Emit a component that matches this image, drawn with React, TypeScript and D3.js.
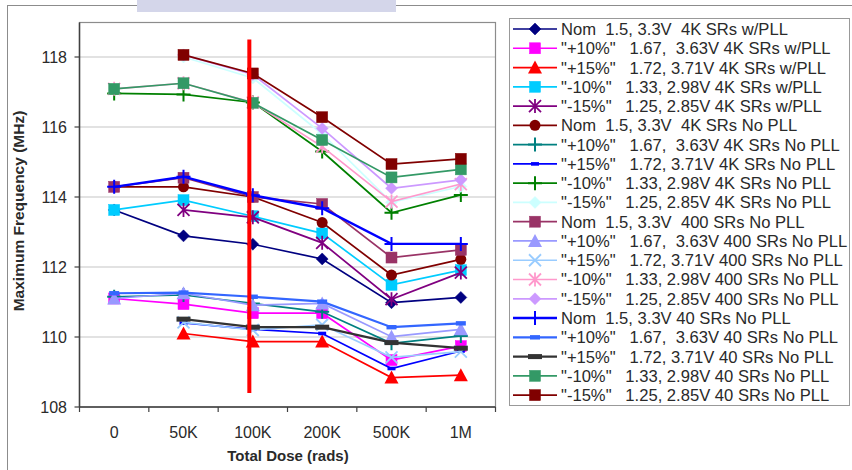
import React from "react";
import * as d3 from "d3";

const doses = ["0", "50K", "100K", "200K", "500K", "1M"];
const yTicks = [108, 110, 112, 114, 116, 118];

const seriesNames = [
  'Nom  1.5, 3.3V  4K SRs w/PLL',
  '"+10%"   1.67,  3.63V 4K SRs w/PLL',
  '"+15%"   1.72, 3.71V 4K SRs w/PLL',
  '"-10%"   1.33, 2.98V 4K SRs w/PLL',
  '"-15%"   1.25, 2.85V 4K SRs w/PLL',
  'Nom  1.5, 3.3V  4K SRs No PLL',
  '"+10%"   1.67,  3.63V 4K SRs No PLL',
  '"+15%"   1.72, 3.71V 4K SRs No PLL',
  '"-10%"   1.33, 2.98V 4K SRs No PLL',
  '"-15%"   1.25, 2.85V 4K SRs No PLL',
  'Nom  1.5, 3.3V  400 SRs No PLL',
  '"+10%"   1.67,  3.63V 400 SRs No PLL',
  '"+15%"   1.72, 3.71V 400 SRs No PLL',
  '"-10%"   1.33, 2.98V 400 SRs No PLL',
  '"-15%"   1.25, 2.85V 400 SRs No PLL',
  'Nom  1.5, 3.3V 40 SRs No PLL',
  '"+10%"   1.67,  3.63V 40 SRs No PLL',
  '"+15%"   1.72, 3.71V 40 SRs No PLL',
  '"-10%"   1.33, 2.98V 40 SRs No PLL',
  '"-15%"   1.25, 2.85V 40 SRs No PLL',
];

type V = number | null;
const nom4kPll: V[] = [113.63, 112.89, 112.65, 112.23, 110.98, 111.13];
const p10_4kPll: V[] = [111.1, 110.94, 110.68, 110.68, 109.34, 109.74];
const p15_4kPll: V[] = [null, 110.1, 109.87, 109.87, 108.84, 108.91];
const m10_4kPll: V[] = [113.63, 113.91, 113.45, 112.96, 111.49, 111.91];
const m15_4kPll: V[] = [null, 113.63, 113.42, 112.69, 111.08, 111.84];
const nom4kNo: V[] = [114.29, 114.29, 114.0, 113.27, 111.77, 112.22];
const p10_4kNo: V[] = [111.15, 111.2, 110.96, 110.72, 109.82, 110.03];
const p15_4kNo: V[] = [null, 110.4, 110.22, 110.1, 109.1, 109.6];
const m10_4kNo: V[] = [116.96, 116.93, 116.7, 115.3, 113.55, 114.06];
const m15_4kNo: V[] = [null, 118.0, 117.4, 115.8, 113.85, 114.3];
const nom400: V[] = [114.29, 114.55, 114.0, 113.8, 112.27, 112.49];
const p10_400: V[] = [111.1, 111.25, 110.91, 110.96, 110.01, 110.22];
const p15_400: V[] = [null, 110.42, 110.2, 110.35, 109.42, 109.58];
const m10_400: V[] = [117.09, 117.25, 116.7, 115.44, 113.87, 114.37];
const m15_400: V[] = [null, 118.06, 117.5, 115.96, 114.25, 114.49];
const nom40: V[] = [114.29, 114.58, 114.05, 113.68, 112.66, 112.66];
const p10_40: V[] = [111.25, 111.27, 111.15, 111.01, 110.28, 110.39];
const p15_40: V[] = [null, 110.51, 110.28, 110.28, 109.84, 109.68];
const m10_40: V[] = [117.09, 117.25, 116.69, 115.63, 114.56, 114.79];
const m15_40: V[] = [null, 118.06, 117.53, 116.28, 114.94, 115.09];

const seriesValues = [
  nom4kPll, p10_4kPll, p15_4kPll, m10_4kPll, m15_4kPll,
  nom4kNo, p10_4kNo, p15_4kNo, m10_4kNo, m15_4kNo,
  nom400, p10_400, p15_400, m10_400, m15_400,
  nom40, p10_40, p15_40, m10_40, m15_40,
];

type Style = { color: string; marker: string; width: number };
const styles: Style[] = [
  { color: "#000080", marker: "diamond", width: 1.7 },
  { color: "#FF00FF", marker: "square", width: 1.7 },
  { color: "#FF0000", marker: "triangle", width: 1.7 },
  { color: "#00CCFF", marker: "square", width: 1.7 },
  { color: "#800080", marker: "asterisk", width: 1.7 },
  { color: "#800000", marker: "circle", width: 1.7 },
  { color: "#008080", marker: "plus", width: 1.7 },
  { color: "#0000FF", marker: "dashS", width: 1.7 },
  { color: "#008000", marker: "plus", width: 1.7 },
  { color: "#CCFFFF", marker: "diamond", width: 1.7 },
  { color: "#993366", marker: "square", width: 1.7 },
  { color: "#9999FF", marker: "triangle", width: 1.7 },
  { color: "#99CCFF", marker: "x", width: 1.7 },
  { color: "#FF99CC", marker: "asterisk", width: 1.7 },
  { color: "#CC99FF", marker: "diamond", width: 1.7 },
  { color: "#0000FF", marker: "plus", width: 2.4 },
  { color: "#3366FF", marker: "dashM", width: 2.2 },
  { color: "#333333", marker: "dashL", width: 2.2 },
  { color: "#339966", marker: "square", width: 1.7 },
  { color: "#800000", marker: "square", width: 1.7 },
];

function Marker({ cx, cy, s }: { cx: number; cy: number; s: Style }) {
  const c = s.color;
  switch (s.marker) {
    case "diamond":
      return <path d={`M${cx},${cy - 6}L${cx + 6},${cy}L${cx},${cy + 6}L${cx - 6},${cy}Z`} fill={c} stroke={c} strokeWidth={0.5} />;
    case "square":
      return <rect x={cx - 5.5} y={cy - 5.5} width={11} height={11} fill={c} stroke={c} strokeWidth={0.5} />;
    case "triangle":
      return <path d={`M${cx},${cy - 7}L${cx + 7},${cy + 6}L${cx - 7},${cy + 6}Z`} fill={c} />;
    case "circle":
      return <circle cx={cx} cy={cy} r={5.5} fill={c} />;
    case "asterisk":
      return (
        <path
          d={`M${cx - 6},${cy - 6}L${cx + 6},${cy + 6}M${cx - 6},${cy + 6}L${cx + 6},${cy - 6}M${cx},${cy - 7}L${cx},${cy + 7}`}
          stroke={c} strokeWidth={1.8} fill="none" />
      );
    case "x":
      return <path d={`M${cx - 6},${cy - 6}L${cx + 6},${cy + 6}M${cx - 6},${cy + 6}L${cx + 6},${cy - 6}`} stroke={c} strokeWidth={1.8} fill="none" />;
    case "plus":
      return <path d={`M${cx - 7},${cy}L${cx + 7},${cy}M${cx},${cy - 7}L${cx},${cy + 7}`} stroke={c} strokeWidth={2} fill="none" />;
    case "dashS":
      return <rect x={cx - 4} y={cy - 1.8} width={8} height={3.6} fill={c} />;
    case "dashM":
      return <rect x={cx - 5} y={cy - 2.2} width={10} height={4.4} fill={c} />;
    case "dashL":
      return <rect x={cx - 7} y={cy - 2.5} width={14} height={5} fill={c} />;
  }
  return null;
}

export default function App() {
  const W = 852, H = 470;
  const left = 79.5, right = 495.5, top = 22.5, bottom = 407;
  const x = d3.scaleBand<string>().domain(doses).range([left, right]).padding(0);
  const bw = x.bandwidth();
  const cx = (d: string) => (x(d) as number) + bw / 2;
  const y = d3.scaleLinear().domain([108, 119]).range([bottom, top - 0.5]);

  const line = d3
    .line<V>()
    .defined((v) => v !== null)
    .x((_, i) => cx(doses[i]))
    .y((v) => y(v as number));

  const font = "'Liberation Sans', Arial, sans-serif";
  const legX = 509.5, legY = 18.5, legW = 340, legH = 387;
  const rowY = (i: number) => 29 + i * 19.27;

  const redX = cx("100K") - 3.5;

  return (
    <svg width={W} height={H} style={{ position: "absolute", left: 0, top: 0, background: "#fff" }} fontFamily={font}>
      {/* outer frame */}
      <rect x={7.5} y={5.5} width={W + 20} height={H + 20} fill="#fff" stroke="#8c8c8c" strokeWidth={1} />
      <rect x={137} y={0} width={259} height={12} fill="#D4D6EA" />

      {/* gridlines */}
      {yTicks.filter((t) => t > 108).map((t) => (
        <line key={t} x1={left} x2={right} y1={y(t)} y2={y(t)} stroke="#d9d9d9" strokeWidth={1.5} />
      ))}
      {/* plot border */}
      <rect x={left} y={top} width={right - left} height={bottom - top} fill="none" stroke="#8c8c8c" strokeWidth={1.2} />
      {/* axes */}
      <line x1={left} x2={left} y1={top} y2={bottom} stroke="#404040" strokeWidth={1.5} />
      <line x1={left} x2={right} y1={bottom} y2={bottom} stroke="#404040" strokeWidth={1.5} />
      {yTicks.map((t) => (
        <g key={t}>
          <line x1={left - 5} x2={left} y1={y(t)} y2={y(t)} stroke="#404040" strokeWidth={1.2} />
          <text x={67} y={y(t)} dy="0.36em" textAnchor="end" fontSize={16} fill="#2a2a2a">{t}</text>
        </g>
      ))}
      {doses.map((d) => (
        <line key={"t" + d} x1={x(d)} x2={x(d)} y1={bottom} y2={bottom + 5} stroke="#404040" strokeWidth={1.2} />
      ))}
      <line x1={right} x2={right} y1={bottom} y2={bottom + 5} stroke="#404040" strokeWidth={1.2} />
      {doses.map((d) => (
        <text key={"l" + d} x={cx(d)} y={438} textAnchor="middle" fontSize={16} fill="#2a2a2a">{d}</text>
      ))}
      <text x={288} y={461} textAnchor="middle" fontSize={15} fontWeight="bold" fill="#2a2a2a">Total Dose (rads)</text>
      <text transform={`translate(24,211) rotate(-90)`} textAnchor="middle" fontSize={15.5} fontWeight="bold" fill="#2a2a2a">
        Maximum Frequency (MHz)
      </text>

      {/* series */}
      {seriesValues.map((vals, si) => (
        <g key={si}>
          <path d={line(vals) || ""} fill="none" stroke={styles[si].color} strokeWidth={styles[si].width} />
          {vals.map((v, i) =>
            v === null ? null : <Marker key={i} cx={cx(doses[i])} cy={y(v)} s={styles[si]} />
          )}
        </g>
      ))}

      {/* red marker line */}
      <rect x={redX - 2} y={y(118.5)} width={4} height={y(108.4) - y(118.5)} fill="#FF0000" />

      {/* legend */}
      <rect x={legX} y={legY} width={legW} height={legH} fill="#fff" stroke="#999" strokeWidth={1} />
      {seriesNames.map((n, i) => (
        <g key={n}>
          <line x1={513} x2={557} y1={rowY(i)} y2={rowY(i)} stroke={styles[i].color} strokeWidth={styles[i].width} />
          <Marker cx={535} cy={rowY(i)} s={styles[i]} />
          <text x={561} y={rowY(i)} dy="0.36em" fontSize={16.6} fill="#2a2a2a" style={{ whiteSpace: "pre" }}>{n}</text>
        </g>
      ))}
    </svg>
  );
}
